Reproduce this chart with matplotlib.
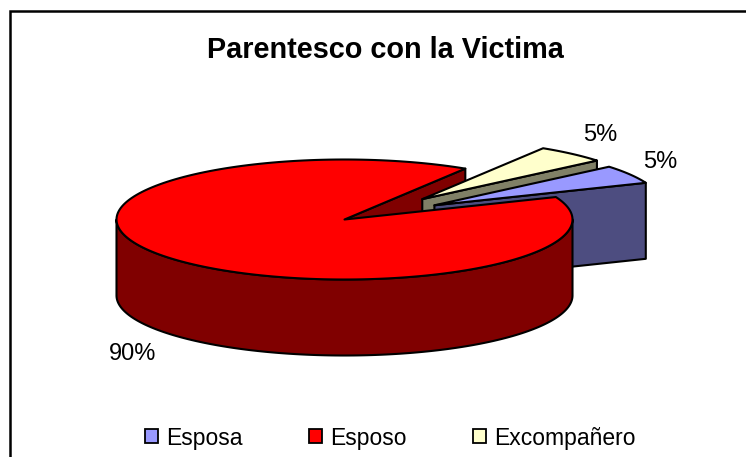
import numpy as np
import matplotlib
matplotlib.use("Agg")
import matplotlib.pyplot as plt
from matplotlib.patches import Polygon, Patch

categories = ["Esposa", "Esposo", "Excompañero"]
values = [5, 90, 5]
labels = ["5%", "90%", "5%"]
top_colors = ["#9999FF", "#FF0000", "#FFFFCC"]
side_colors = ["#4D4D80", "#800000", "#808066"]
explode_x = [0.46, 0.0, 0.52]
explode_y = [0.46, 0.0, 0.45]
title = "Parentesco con la Victima"

# pie projection, in pixels
CX, CY, A, B, DEPTH = 344.5, 219.5, 228, 60, 76
START = 40.0

plt.rcParams["font.family"] = ["Liberation Sans", "DejaVu Sans"]
fig = plt.figure(figsize=(7.46, 4.57), dpi=100)
ax = fig.add_axes([0, 0, 1, 1])
ax.set_xlim(0, 746)
ax.set_ylim(457, 0)
ax.axis("off")

# slice angles (clockwise from START)
fr = np.array(values) / sum(values) * 360
starts = START - np.concatenate([[0], np.cumsum(fr)[:-1]])
ends = starts - fr


def pt(deg, ox=0.0, oy=0.0):
    t = np.radians(deg)
    return np.column_stack([ox + CX + A * np.cos(t), oy + CY - B * np.sin(t)])


def arc(a0, a1):
    return np.linspace(a0, a1, 200)


def offset(i):
    mid = np.radians((starts[i] + ends[i]) / 2)
    return explode_x[i] * A * np.cos(mid), -explode_y[i] * B * np.sin(mid)


def poly(xy, color, z):
    ax.add_patch(Polygon(xy, closed=True, fc=color, ec="black", lw=1.5,
                         joinstyle="round", zorder=z))


def cut_face(i, deg, z):
    ox, oy = offset(i)
    apex = np.array([[CX + ox, CY + oy]])
    edge = pt(deg, ox, oy)
    poly(np.vstack([apex, edge, edge + [0, DEPTH], apex + [0, DEPTH]]),
         side_colors[i], z)


def top_face(i, z):
    ox, oy = offset(i)
    apex = np.array([[CX + ox, CY + oy]])
    poly(np.vstack([apex, pt(arc(starts[i], ends[i]), ox, oy)]), top_colors[i], z)


# back to front: far cut of the large slice, small slices, then large slice
cut_face(1, ends[1], 1)
cut_face(2, ends[2], 2)
top_face(2, 3)
cut_face(0, ends[0], 4)
top_face(0, 5)
rim = pt(arc(180, 360))
poly(np.vstack([rim, (rim + [0, DEPTH])[::-1]]), side_colors[1], 6)
top_face(1, 7)

# percentage labels
label_pos = [(660, 162), (133, 354), (600, 135)]
for lab, (x, y) in zip(labels, label_pos):
    ax.text(x, y, lab, ha="center", va="center", fontsize=17, color="black", zorder=9)

ax.text(385, 50, title, ha="center", va="center", fontsize=20.8,
        fontweight="bold", color="black")

# chart frame: only the top and left edges fall inside the picture
ax.plot([9.5, 9.5, 746], [457, 11, 11], color="black", lw=1.8,
        solid_joinstyle="miter", zorder=10)

handles = [Patch(fc=c, ec="black", lw=1.3) for c in top_colors]
ax.legend(handles, categories, loc="center", bbox_to_anchor=(390 / 746, 1 - 438 / 457),
          ncol=3, frameon=False, fontsize=16.5, handlelength=0.57, handleheight=0.57,
          handletextpad=0.35, columnspacing=2.9)

fig.savefig("out.png", dpi=100)
